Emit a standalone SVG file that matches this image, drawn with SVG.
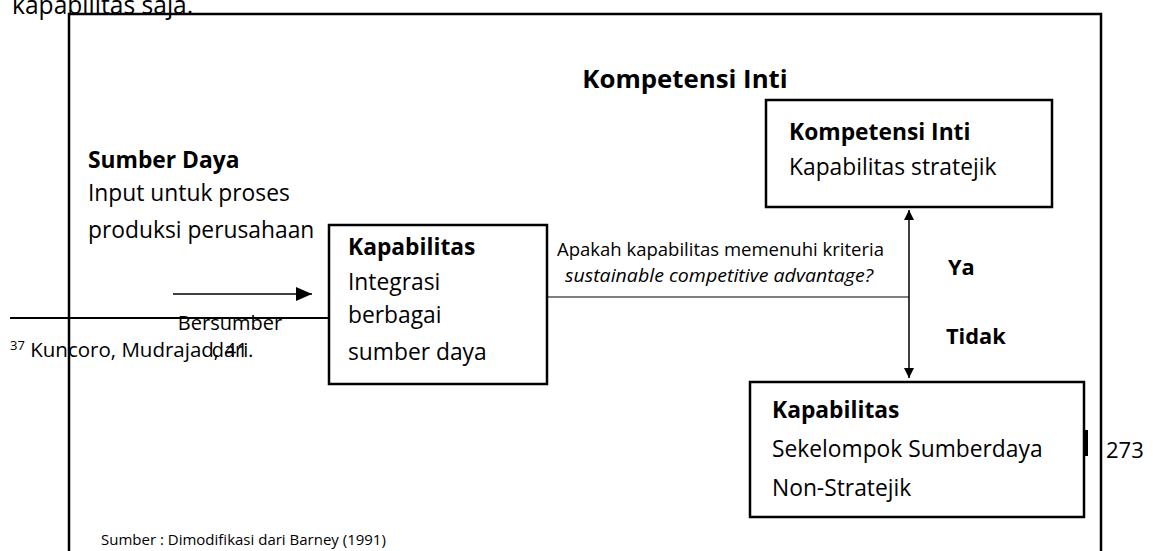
<svg xmlns="http://www.w3.org/2000/svg" width="1153" height="551" viewBox="0 0 1153 551">
<style>
text{font-family:"Open Sans","Liberation Sans",sans-serif;fill:#000}
.t{font-size:22.8px}
.b{font-size:22.8px;font-weight:bold}
.s{font-size:18.6px}
.box{fill:#fff;stroke:#000;stroke-width:2.5}
.ln{stroke:#000;fill:none}
</style>
<defs>
<marker id="ah" viewBox="0 0 10 10" refX="10" refY="5" markerWidth="10" markerHeight="10" markerUnits="userSpaceOnUse" orient="auto-start-reverse"><path d="M0,0L10,5L0,10Z" fill="#000"/></marker>
<marker id="ah2" viewBox="0 0 16 14" refX="16" refY="7" markerWidth="16" markerHeight="14" markerUnits="userSpaceOnUse" orient="auto"><path d="M0,0L16,7L0,14Z" fill="#000"/></marker>
</defs>
<text x="12" y="14" style="font-size:24.6px">kapabilitas saja.</text>
<g id="frame"><path class="ln" stroke-width="2.5" d="M69,560V14H1101V560"/></g>
<text x="685" y="88" text-anchor="middle" class="b" style="font-size:25.8px">Kompetensi Inti</text>
<g id="connectors">
<line class="ln" x1="10" y1="318" x2="329" y2="318" stroke-width="2"/>
<line class="ln" x1="173" y1="294" x2="312" y2="294" stroke-width="1.5" marker-end="url(#ah2)"/>
<line class="ln" x1="547" y1="297" x2="909" y2="297" stroke-width="1"/>
<line class="ln" x1="909" y1="210" x2="909" y2="378" stroke-width="1.5" marker-start="url(#ah)" marker-end="url(#ah)"/>
<rect x="1085" y="430" width="3" height="26" fill="#000"/>
</g>
<g id="sumber-daya">
<text x="88" y="168" class="b">Sumber Daya</text>
<text x="88" y="201" class="t">Input untuk proses</text>
<text x="88" y="238" class="t">produksi perusahaan</text>
</g>
<g id="bersumber">
<text x="230" y="330" text-anchor="middle" style="font-size:20px">Bersumber</text>
<text x="230" y="357" text-anchor="middle" style="font-size:20px">dari</text>
</g>
<text x="10" y="357" style="font-size:20.5px"><tspan style="font-size:13px" dy="-7">37</tspan><tspan dy="7"> Kuncoro, Mudrajad, 41.</tspan></text>
<g id="kapabilitas">
<rect class="box" x="329" y="225" width="218" height="159"/>
<text x="348" y="255" class="b">Kapabilitas</text>
<text x="348" y="290" class="t">Integrasi</text>
<text x="348" y="323" class="t">berbagai</text>
<text x="348" y="360" class="t">sumber daya</text>
</g>
<g id="question">
<text x="557" y="256" class="s" textLength="327" lengthAdjust="spacingAndGlyphs">Apakah kapabilitas memenuhi kriteria</text>
<text x="565" y="282" class="s" font-style="italic" textLength="308" lengthAdjust="spacingAndGlyphs">sustainable competitive advantage?</text>
</g>
<g id="kompetensi-inti">
<rect class="box" x="766" y="100" width="286" height="107"/>
<text x="789" y="140" class="b">Kompetensi Inti</text>
<text x="789" y="175" class="t">Kapabilitas stratejik</text>
</g>
<text x="948" y="275" class="b" style="font-size:21.8px">Ya</text>
<text x="946" y="344" class="b" style="font-size:21.8px">Tidak</text>
<g id="non-strategik">
<rect class="box" x="750" y="382" width="334" height="135"/>
<text x="772" y="418" class="b">Kapabilitas</text>
<text x="772" y="457" class="t">Sekelompok Sumberdaya</text>
<text x="772" y="496" class="t">Non-Stratejik</text>
</g>
<text x="1106" y="458" style="font-size:22px">273</text>
<text x="101" y="545" style="font-size:15px">Sumber : Dimodifikasi dari Barney (1991)</text>
</svg>
